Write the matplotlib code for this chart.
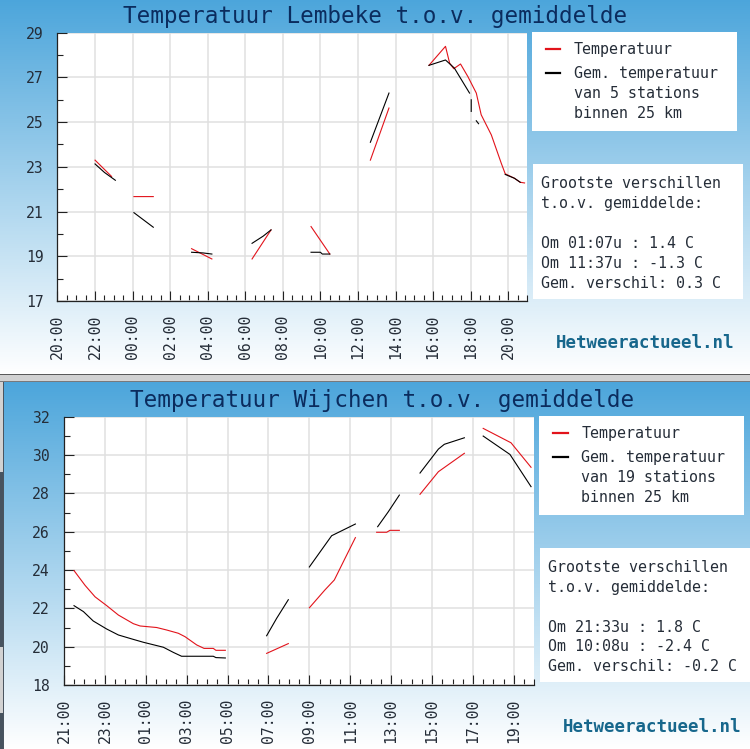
#!/usr/bin/env python3
"""Two stacked Hetweeractueel temperature panels, laid out in image pixels."""
import numpy as np
import matplotlib
matplotlib.use("Agg")
import matplotlib.pyplot as plt
from matplotlib.lines import Line2D
from matplotlib.patches import Rectangle

W, H = 750, 749
MONO = "DejaVu Sans Mono"
TEXT = "#252d38"
NAVY = "#0b2c5e"
TEAL = "#17678c"
RED = "#e2131b"

# hours since the first tick, None breaks the line
lembeke_temp_x = [2.0, 2.88, None, 4.07, 5.1, None, 7.14, 8.22, None, 10.36, 11.37, None,
                  13.5, 14.5, None, 16.66, 17.65, None, 19.78, 20.66, 20.88, 21.1, 21.46,
                  21.85, 22.3, 22.56, 23.1, 23.63, 23.84, 24.33, 24.64, 24.87]
lembeke_temp_y = [23.3, 22.57, None, 21.67, 21.67, None, 19.34, 18.88, None, 18.88, 20.18, None,
                  20.33, 19.1, None, 23.3, 25.63, None, 27.54, 28.39, 27.64, 27.39, 27.6,
                  27.04, 26.3, 25.33, 24.43, 23.16, 22.69, 22.49, 22.31, 22.28]
lembeke_avg_x = [2.0, 2.5, 3.08, None, 4.07, 5.1, None, 7.14, 7.75, 8.22, None, 10.36, 10.95, 11.37,
                 None, 13.5, 14.0, 14.1, 14.5, None, 16.66, 17.65, None, 19.78, 20.66, 21.13, 21.94,
                 None, 22.03, 22.03, None, 22.3, 22.42, None, 23.84, 24.33, 24.64]
lembeke_avg_y = [23.13, 22.75, 22.4, None, 20.95, 20.3, None, 19.18, 19.15, 19.1, None, 19.58, 19.9, 20.18,
                 None, 19.18, 19.18, 19.1, 19.1, None, 24.1, 26.3, None, 27.54, 27.78, 27.42, 26.3,
                 None, 26.0, 25.48, None, 25.06, 24.93, None, 22.66, 22.49, 22.31]

wijchen_temp_x = [0.49, 1.03, 1.52, 2.09, 2.66, 3.39, 3.72, 4.53, 5.02, 5.59, 5.92, 6.49, 6.85, 7.3,
                  7.43, 7.89, None, 9.91, 10.97, None, 12.0, 12.76, 13.22, 13.74, 14.25, None,
                  15.29, 15.78, 15.94, 16.4, None, 17.41, 18.31, 19.58, None, 20.5, 21.86, 22.84]
wijchen_temp_y = [23.97, 23.2, 22.6, 22.14, 21.65, 21.2, 21.08, 21.0, 20.87, 20.7, 20.52, 20.09, 19.91, 19.91,
                  19.81, 19.81, None, 19.65, 20.16, None, 22.03, 22.96, 23.48, 24.6, 25.69, None,
                  25.97, 25.97, 26.07, 26.07, None, 27.95, 29.13, 30.09, None, 31.39, 30.64, 29.36]
wijchen_avg_x = [0.49, 0.95, 1.43, 2.09, 2.66, 3.39, 3.88, 4.86, 5.35, 5.75, 7.3, 7.43, 7.89, None,
                 9.91, 10.4, 10.97, None, 12.0, 13.09, 13.66, 14.25, None, 15.34, 15.86, 16.4, None,
                 17.41, 18.31, 18.6, 19.58, None, 20.5, 21.81, 22.84]
wijchen_avg_y = [22.14, 21.83, 21.34, 20.92, 20.61, 20.38, 20.23, 19.97, 19.7, 19.5, 19.5, 19.43, 19.41, None,
                 20.57, 21.48, 22.45, None, 24.16, 25.79, 26.09, 26.4, None, 26.26, 27.04, 27.91, None,
                 29.06, 30.31, 30.56, 30.9, None, 30.99, 30.03, 28.35]

lembeke_hours = ["20:00", "22:00", "00:00", "02:00", "04:00", "06:00", "08:00",
                 "10:00", "12:00", "14:00", "16:00", "18:00", "20:00"]
wijchen_hours = ["21:00", "23:00", "01:00", "03:00", "05:00", "07:00",
                 "09:00", "11:00", "13:00", "15:00", "17:00", "19:00"]

lembeke_stats = ["Grootste verschillen", "t.o.v. gemiddelde:", "",
                 "Om 01:07u : 1.4 C", "Om 11:37u : -1.3 C", "Gem. verschil: 0.3 C"]
wijchen_stats = ["Grootste verschillen", "t.o.v. gemiddelde:", "",
                 "Om 21:33u : 1.8 C", "Om 10:08u : -2.4 C", "Gem. verschil: -0.2 C"]


def px_axes(fig, left, top, right, bottom, **kw):
    return fig.add_axes([left / W, 1 - bottom / H, (right - left) / W, (bottom - top) / H], **kw)


def px_text(fig, x, y, s, **kw):
    kw.setdefault("family", MONO)
    kw.setdefault("color", TEXT)
    kw.setdefault("va", "center")
    fig.text(x / W, 1 - y / H, s, **kw)


def px_box(fig, left, top, right, bottom, color="white", zorder=1):
    fig.add_artist(Rectangle((left / W, 1 - bottom / H), (right - left) / W, (bottom - top) / H,
                             transform=fig.transFigure, facecolor=color, edgecolor="none",
                             zorder=zorder))


def gradient(fig, left, top, right, bottom):
    ax = px_axes(fig, left, top, right, bottom, zorder=-5)
    ramp = np.linspace(0, 1, 256).reshape(-1, 1, 1)
    img = (1 - ramp) * np.array([0.30, 0.65, 0.86]).reshape(1, 1, 3) + ramp
    ax.imshow(img, aspect="auto")
    ax.axis("off")


def panel(fig, box, ymin, ymax, hours, tx, ty, ax_, ay_, title, title_xy, labels, stats, d):
    left, top, right, bottom, nhours = box
    ax = px_axes(fig, left, top, right, bottom)
    ax.set_xlim(0, nhours)
    ax.set_ylim(ymin, ymax)
    ax.set_facecolor("white")
    ax.plot(np.array(tx, dtype=float), np.array(ty, dtype=float), color=RED, lw=0.8, zorder=3)
    ax.plot(np.array(ax_, dtype=float), np.array(ay_, dtype=float), color="black", lw=0.8, zorder=3)

    ax.set_xticks(range(0, 2 * len(hours), 2), hours, rotation=90)
    ax.set_xticks(np.arange(0, nhours + 0.01, 0.5), minor=True)
    ax.set_yticks(range(ymin, ymax + 1, 2))
    ax.set_yticks(range(ymin + 1, ymax, 2), minor=True)
    ax.grid(True, which="major", color="#e0e0e0", lw=1.1)
    ax.set_axisbelow(True)
    ax.tick_params(which="major", direction="in", length=7, width=0.8, color="#222222",
                   labelsize=10.6, labelcolor=TEXT, pad=10)
    ax.tick_params(which="minor", direction="in", length=4, width=0.8, color="#222222")
    for lab in ax.get_xticklabels() + ax.get_yticklabels():
        lab.set_family(MONO)
    for name in ("top", "right"):
        ax.spines[name].set_visible(False)
    for name in ("left", "bottom"):
        ax.spines[name].set_color("#222222")
        ax.spines[name].set_linewidth(0.9)

    px_text(fig, title_xy[0], title_xy[1], title, color=NAVY, fontsize=16.3, ha="left")

    # legend box, then stats box, both offset from the panel's right edge
    px_box(fig, right + 4.7, top - 0.7, right + 209.5, top + 98)
    px_text(fig, right + 47, top + 16.5, labels[0], fontsize=10.8)
    px_text(fig, right + 47, top + 40.5, labels[1], fontsize=10.8)
    px_text(fig, right + 47, top + 60.5, labels[2], fontsize=10.8)
    px_text(fig, right + 47, top + 80.5, labels[3], fontsize=10.8)
    for y, col in ((top + 16, RED), (top + 40.3, "black")):
        fig.add_artist(Line2D([(right + 18.5) / W, (right + 33.3) / W], [1 - y / H, 1 - y / H],
                              color=col, lw=1.6))

    px_box(fig, right + 6, top + d, right + 216, top + d + 134.5)
    for i, line in enumerate(stats):
        px_text(fig, right + 13.7, top + d + 20 + i * 19.8, line, fontsize=10.8)

    px_text(fig, right + 28.5, bottom + 41.7, "Hetweeractueel.nl", color=TEAL,
            fontsize=12.6, weight="bold")


fig = plt.figure(figsize=(W / 100, H / 100), dpi=100, facecolor="#d2d2d2")
gradient(fig, 0, 0, W, 374)
gradient(fig, 4, 382, W, H)
# screenshot seam between the panels and the window edge down the left side
px_box(fig, 0, 374, W, 375.2, color="#5a5a5a", zorder=-4)
px_box(fig, 0, 381, W, 382, color="#77797c", zorder=-4)
px_box(fig, 3, 382, 4, H, color="#4a5560", zorder=-4)
px_box(fig, 0, 472, 3, 647, color="#47535f", zorder=-4)
px_box(fig, 0, 713, 3, H, color="#47535f", zorder=-4)

panel(fig, (57.5, 32.7, 527, 301, 25), 17, 29, lembeke_hours,
      lembeke_temp_x, lembeke_temp_y, lembeke_avg_x, lembeke_avg_y,
      "Temperatuur Lembeke t.o.v. gemiddelde", (123, 16.5),
      ["Temperatuur", "Gem. temperatuur", "van 5 stations", "binnen 25 km"],
      lembeke_stats, 131.3)
panel(fig, (64, 416.7, 534.3, 685, 23), 18, 32, wijchen_hours,
      wijchen_temp_x, wijchen_temp_y, wijchen_avg_x, wijchen_avg_y,
      "Temperatuur Wijchen t.o.v. gemiddelde", (130, 400),
      ["Temperatuur", "Gem. temperatuur", "van 19 stations", "binnen 25 km"],
      wijchen_stats, 131)

fig.savefig("out.png", dpi=100)
